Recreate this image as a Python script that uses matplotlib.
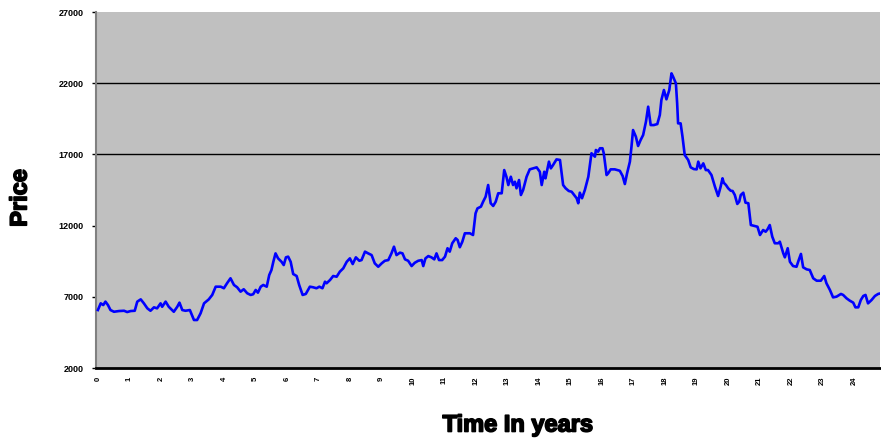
import matplotlib
matplotlib.use("Agg")
import matplotlib.pyplot as plt
import matplotlib.patheffects as pe

# Price history, sampled along the time axis (years, price)
years = [
    0.00, 0.09, 0.17, 0.24, 0.32, 0.40, 0.51, 0.67, 0.83, 0.93,
    1.04, 1.17, 1.25, 1.36, 1.46, 1.57, 1.67, 1.78, 1.88, 1.99,
    2.04, 2.15, 2.25, 2.41, 2.52, 2.59, 2.68, 2.78, 2.92, 3.05,
    3.15, 3.26, 3.37, 3.52, 3.63, 3.74, 3.90, 4.00, 4.10, 4.21,
    4.32, 4.42, 4.53, 4.63, 4.74, 4.85, 4.93, 5.01, 5.08, 5.17,
    5.25, 5.36, 5.44, 5.51, 5.57, 5.64, 5.72, 5.83, 5.90, 5.97,
    6.04, 6.12, 6.20, 6.31, 6.39, 6.50, 6.60, 6.73, 6.83, 6.94,
    7.03, 7.13, 7.21, 7.26, 7.37, 7.47, 7.58, 7.68, 7.79, 7.90,
    8.00, 8.09, 8.19, 8.30, 8.37, 8.48, 8.58, 8.69, 8.79, 8.90,
    9.01, 9.11, 9.22, 9.32, 9.40, 9.48, 9.59, 9.67, 9.75, 9.85,
    9.96, 10.06, 10.17, 10.28, 10.33, 10.40, 10.49, 10.59, 10.68, 10.75,
    10.83, 10.93, 11.02, 11.10, 11.17, 11.25, 11.36, 11.42, 11.49, 11.57,
    11.65, 11.81, 11.91, 11.99, 12.05, 12.16, 12.23, 12.31, 12.39, 12.47,
    12.55, 12.63, 12.71, 12.82, 12.90, 12.97, 13.03, 13.11, 13.18, 13.24,
    13.29, 13.37, 13.43, 13.50, 13.61, 13.71, 13.82, 13.93, 14.03, 14.09,
    14.17, 14.21, 14.32, 14.38, 14.45, 14.56, 14.67, 14.77, 14.85, 14.95,
    15.04, 15.12, 15.20, 15.25, 15.30, 15.37, 15.46, 15.57, 15.67, 15.78,
    15.81, 15.88, 15.94, 16.02, 16.06, 16.15, 16.20, 16.28, 16.41, 16.57,
    16.66, 16.73, 16.80, 16.89, 16.94, 16.99, 17.08, 17.15, 17.23, 17.31,
    17.40, 17.47, 17.55, 17.65, 17.76, 17.84, 17.89, 17.97, 18.05, 18.14,
    18.21, 18.26, 18.35, 18.39, 18.42, 18.50, 18.56, 18.63, 18.74, 18.82,
    18.92, 19.01, 19.06, 19.13, 19.22, 19.30, 19.37, 19.48, 19.59, 19.69,
    19.77, 19.83, 19.87, 19.94, 20.01, 20.09, 20.15, 20.22, 20.30, 20.36,
    20.41, 20.49, 20.56, 20.65, 20.73, 20.86, 20.94, 21.02, 21.12, 21.20,
    21.26, 21.33, 21.41, 21.49, 21.60, 21.65, 21.76, 21.81, 21.90, 21.97,
    22.07, 22.18, 22.25, 22.32, 22.39, 22.50, 22.60, 22.71, 22.82, 22.95,
    23.06, 23.13, 23.24, 23.34, 23.45, 23.59, 23.66, 23.77, 23.87, 23.98,
    24.05, 24.14, 24.22, 24.30, 24.37, 24.45, 24.56, 24.67, 24.77, 24.86,
]

prices = [
    6070, 6540, 6420, 6660, 6420, 6070, 5950, 6000, 6020, 5930,
    6000, 6020, 6660, 6820, 6540, 6190, 6020, 6260, 6190, 6540,
    6300, 6660, 6300, 5950, 6300, 6590, 6070, 6020, 6070, 5370,
    5370, 5840, 6540, 6820, 7130, 7710, 7710, 7600, 7950, 8300,
    7830, 7670, 7360, 7530, 7250, 7130, 7180, 7480, 7290, 7710,
    7830, 7710, 8530, 8880, 9460, 10050, 9700, 9460, 9230, 9770,
    9820, 9460, 8600, 8460, 7830, 7130, 7200, 7710, 7670, 7600,
    7710, 7600, 8060, 7950, 8180, 8460, 8410, 8760, 9000, 9460,
    9700, 9300, 9770, 9530, 9580, 10170, 10050, 9930, 9350, 9110,
    9350, 9530, 9580, 10050, 10520, 9930, 10100, 10050, 9630, 9530,
    9160, 9390, 9530, 9580, 9160, 9700, 9860, 9770, 9630, 10050,
    9580, 9580, 9820, 10410, 10170, 10760, 11110, 10990, 10480, 10870,
    11460, 11460, 11340, 12860, 13210, 13330, 13680, 14030, 14850, 13570,
    13380, 13680, 14270, 14270, 15900, 15430, 14850, 15430, 14850, 15080,
    14620, 15200, 14150, 14500, 15430, 15950, 16020, 16090, 15780, 14850,
    15780, 15320, 16490, 16020, 16250, 16650, 16610, 14850, 14620, 14430,
    14380, 14150, 13920, 13570, 14310, 13920, 14500, 15430, 17080, 16840,
    17310, 17190, 17430, 17430, 17080, 15550, 15670, 15950, 15950, 15850,
    15480, 14920, 15670, 16490, 17540, 18710, 18240, 17590, 18010, 18360,
    19300, 20350, 19060, 19060, 19130, 19770, 20820, 21520, 20870, 21520,
    22690, 22460, 21990, 20590, 19180, 19180, 18240, 16960, 16610, 16090,
    15970, 15950, 16490, 16020, 16370, 15900, 15900, 15550, 14730, 14080,
    14730, 15320, 15010, 14850, 14620, 14450, 14430, 14150, 13520, 13680,
    14150, 14310, 13610, 13570, 12040, 11970, 11920, 11340, 11690, 11570,
    11740, 12040, 11220, 10760, 10760, 10870, 10050, 9770, 10410, 9460,
    9160, 9110, 9580, 10010, 9070, 8930, 8880, 8300, 8130, 8130,
    8460, 7950, 7480, 6960, 7010, 7200, 7130, 6890, 6730, 6590,
    6260, 6260, 6770, 7060, 7130, 6540, 6770, 7060, 7200, 7250,
]

year_ticks = list(range(0, 25))
price_ticks = [2000, 7000, 12000, 17000, 22000, 27000]
grid_levels = [17000, 22000]

fig = plt.figure(figsize=(8.81, 4.41), dpi=100)
ax = fig.add_axes([96 / 881, 1 - 368 / 441, 784 / 881, 356 / 441])
ax.set_facecolor("#C0C0C0")

ax.hlines(grid_levels, -1, 30, colors="black", linewidth=1.0, zorder=1)
ax.plot(years, prices, color="#0000FF", linewidth=1.9, zorder=3,
        solid_joinstyle="round")

ax.set_xlim(-0.06, 24.83)
ax.set_ylim(2000, 27000)

ax.set_xticks(year_ticks)
ax.set_xticklabels([str(t) for t in year_ticks], rotation=90,
                   fontsize=5.5, fontweight="bold", family="Liberation Sans")
ax.set_yticks(price_ticks)
ax.set_yticklabels([str(t) for t in price_ticks], fontsize=6.5,
                   fontweight="bold", family="Liberation Sans")
ax.tick_params(axis="x", length=0, pad=6)
ax.tick_params(axis="y", length=3, width=1, direction="out", pad=6,
               color="black")

for side in ("top", "right"):
    ax.spines[side].set_visible(False)
ax.spines["left"].set_color("#808080")
ax.spines["left"].set_linewidth(1.5)
ax.spines["bottom"].set_color("black")
ax.spines["bottom"].set_linewidth(2.0)

heavy = [pe.withStroke(linewidth=1.2, foreground="black")]
fig.text(20 / 881, 1 - 198 / 441, "Price", rotation=90, ha="center",
         va="center", fontsize=17, fontweight="bold",
         family="Liberation Sans", path_effects=heavy)
fig.text(518 / 881, 1 - 425 / 441, "Time In years", ha="center",
         va="center", fontsize=17, fontweight="bold",
         family="Liberation Sans", path_effects=heavy)

fig.savefig("out.png", dpi=100)
